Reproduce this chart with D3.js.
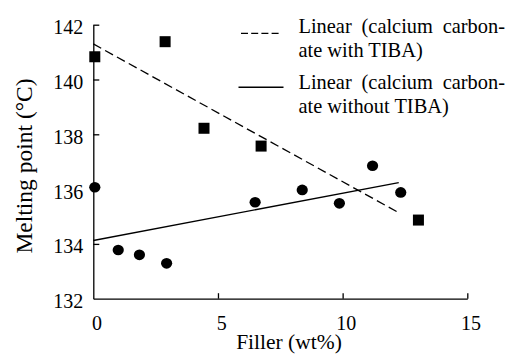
<!DOCTYPE html>
<html><head><meta charset="utf-8">
<script src="https://cdn.jsdelivr.net/npm/d3@7"></script>
</head><body style="margin:0">
<script>
// Data
const fillerWithTIBA = [0, 2.88, 4.44, 6.73, 13.04];
const meltWithTIBA = [140.83, 141.38, 138.22, 137.57, 134.87];
const fillerWithoutTIBA = [0, 1.0, 1.85, 2.94, 6.49, 8.38, 9.87, 11.2, 12.33];
const meltWithoutTIBA = [136.07, 133.78, 133.6, 133.29, 135.52, 135.97, 135.48, 136.85, 135.88];
const trendRange = [0, 12.25];
const xTicks = [0, 5, 10, 15];
const yTicks = [132, 134, 136, 138, 140, 142];
const legendLines = [["Linear (calcium carbon-", "ate with TIBA)"], ["Linear (calcium carbon-", "ate without TIBA)"]];

const FONT = '"Liberation Serif", Tinos, "Times New Roman", "Nimbus Roman", FreeSerif, "DejaVu Serif"';
const W = 518, H = 356;
const m = {l: 93.3, r: 50.7, t: 24.7, b: 57.3};
const svg = d3.select("body").append("svg").attr("width", W).attr("height", H)
  .style("display", "block").style("font-family", FONT);
const x = d3.scaleLinear().domain([0, 15]).range([m.l, W - m.r]);
const y = d3.scaleLinear().domain([132, 142]).range([H - m.b, m.t]);

function fit(xs, ys) {
  const mx = d3.mean(xs), my = d3.mean(ys);
  let sxy = 0, sxx = 0;
  xs.forEach((v, i) => { sxy += (v - mx) * (ys[i] - my); sxx += (v - mx) ** 2; });
  const b = sxy / sxx; return {a: my - b * mx, b};
}
function txt(sel) { return sel.style("font-family", FONT).attr("fill", "#000"); }

// axes
const xAxis = svg.append("g").attr("transform", `translate(0,${y(132)})`)
  .call(d3.axisBottom(x).tickValues(xTicks).tickSizeInner(-5.5).tickSizeOuter(0).tickFormat(d3.format("d")));
xAxis.attr("font-family", null).attr("font-size", 20);
xAxis.select(".domain").attr("stroke-width", 1.3);
xAxis.selectAll(".tick line").attr("stroke-width", 1.3).filter(d => d === 0).remove();
txt(xAxis.selectAll(".tick text")).attr("font-size", 20).attr("y", 0).attr("dy", 31.5).attr("dx", 3.2);
const yAxis = svg.append("g").attr("transform", `translate(${x(0)},0)`)
  .call(d3.axisLeft(y).tickValues(yTicks).tickSizeInner(-6).tickSizeOuter(0).tickFormat(d3.format("d")));
yAxis.attr("font-family", null).attr("font-size", 20);
yAxis.select(".domain").attr("stroke-width", 1.3);
yAxis.selectAll(".tick line").attr("stroke-width", 1.3).filter(d => d === 132).remove();
txt(yAxis.selectAll(".tick text")).attr("font-size", 20).attr("x", -10).attr("dy", "0.45em");

// trend lines
const line = d3.line().x(d => x(d[0])).y(d => y(d[1]));
const f1 = fit(fillerWithTIBA, meltWithTIBA), f2 = fit(fillerWithoutTIBA, meltWithoutTIBA);
svg.append("path").datum(trendRange.map(v => [v, f1.a + f1.b * v])).attr("d", line)
  .attr("fill", "none").attr("stroke", "#000").attr("stroke-width", 1.3).attr("stroke-dasharray", "9,4.5");
svg.append("path").datum(trendRange.map(v => [v, f2.a + f2.b * v])).attr("d", line)
  .attr("fill", "none").attr("stroke", "#000").attr("stroke-width", 1.4);

// points
const s = 11;
svg.append("g").selectAll("rect").data(fillerWithTIBA.map((v, i) => [v, meltWithTIBA[i]])).join("rect")
  .attr("x", d => x(d[0]) - s / 2 + (d[0] === 0 ? 1.5 : 0)).attr("y", d => y(d[1]) - s / 2)
  .attr("width", s).attr("height", s).attr("fill", "#000");
svg.append("g").selectAll("ellipse").data(fillerWithoutTIBA.map((v, i) => [v, meltWithoutTIBA[i]])).join("ellipse")
  .attr("cx", d => x(d[0]) + (d[0] === 0 ? 1.5 : 0)).attr("cy", d => y(d[1]))
  .attr("rx", 5.6).attr("ry", 5.3).attr("fill", "#000");

// axis titles
txt(svg.append("text")).attr("x", 289).attr("y", 349).attr("text-anchor", "middle")
  .attr("font-size", 21.5).text("Filler (wt%)");
txt(svg.append("text")).attr("transform", "translate(32,166) rotate(-90)")
  .attr("text-anchor", "middle").attr("font-size", 23.5).text("Melting point (°C)");

// legend
const lg = svg.append("g");
const lx = 298.5, rightEdge = 505;
const baselines = [[33.3, 57.3], [89.3, 113.3]];
lg.append("line").attr("x1", 241).attr("x2", 281).attr("y1", 33.3).attr("y2", 33.3)
  .attr("stroke", "#000").attr("stroke-width", 1.3).attr("stroke-dasharray", "7,3.2");
lg.append("line").attr("x1", 238.5).attr("x2", 283.5).attr("y1", 87.3).attr("y2", 87.3)
  .attr("stroke", "#000").attr("stroke-width", 1.4);
const firstLines = [];
legendLines.forEach((pair, i) => {
  pair.forEach((t, j) => {
    const el = txt(lg.append("text")).attr("x", lx).attr("y", baselines[i][j])
      .attr("font-size", 20.4).text(t);
    if (j === 0) firstLines.push(el);
  });
});
function justify() {
  firstLines.forEach(el => {
    el.attr("word-spacing", null);
    const len = el.node().getComputedTextLength();
    const nSp = (el.text().match(/ /g) || []).length;
    el.attr("word-spacing", (rightEdge - lx - len) / nSp);
  });
}
justify();
if (document.fonts && document.fonts.ready) document.fonts.ready.then(justify);
</script>
</body></html>
